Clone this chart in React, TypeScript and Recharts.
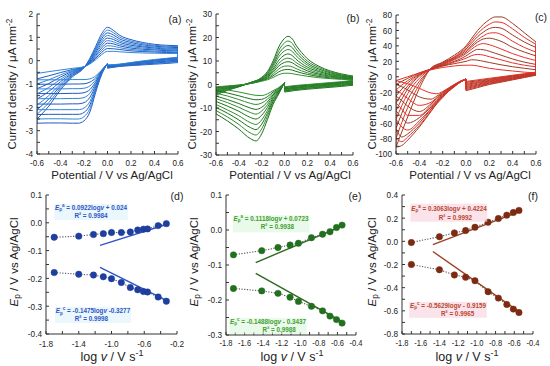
import React from 'react';
import { LineChart, Line, XAxis, YAxis } from 'recharts';

const SANS = '"Liberation Sans", Arial, sans-serif';

// ---------- (a) CV, blue ----------
const aFwdE = [-0.6, -0.5, -0.4, -0.3, -0.2, -0.15, -0.1, -0.05, 0, 0.05, 0.1, 0.2, 0.3, 0.4, 0.5, 0.6];
const aFwd = [
  [-2.5, -1.95, -1.25, -0.7, -0.3, 0.1, 0.62, 1.15, 1.43, 1.3, 1.1, 0.9, 0.78, 0.7, 0.66, 0.64],
  [-2.3, -1.8, -1.17, -0.66, -0.3, 0.06, 0.55, 1.04, 1.31, 1.2, 1.02, 0.84, 0.73, 0.66, 0.62, 0.6],
  [-2.1, -1.65, -1.08, -0.62, -0.29, 0.03, 0.48, 0.94, 1.19, 1.1, 0.94, 0.78, 0.68, 0.62, 0.58, 0.56],
  [-1.9, -1.5, -1.0, -0.58, -0.29, 0.0, 0.42, 0.84, 1.08, 1.0, 0.86, 0.72, 0.63, 0.58, 0.54, 0.52],
  [-1.65, -1.32, -0.9, -0.54, -0.28, -0.03, 0.35, 0.74, 0.97, 0.91, 0.79, 0.66, 0.59, 0.54, 0.5, 0.49],
  [-1.42, -1.15, -0.8, -0.5, -0.28, -0.06, 0.29, 0.64, 0.86, 0.81, 0.71, 0.6, 0.54, 0.5, 0.47, 0.46],
  [-1.2, -0.98, -0.7, -0.46, -0.27, -0.08, 0.22, 0.54, 0.75, 0.72, 0.64, 0.54, 0.49, 0.46, 0.43, 0.42],
  [-1.0, -0.82, -0.61, -0.42, -0.27, -0.1, 0.16, 0.44, 0.64, 0.62, 0.56, 0.48, 0.44, 0.41, 0.39, 0.38],
  [-0.78, -0.65, -0.51, -0.38, -0.26, -0.12, 0.1, 0.35, 0.52, 0.51, 0.48, 0.42, 0.39, 0.37, 0.35, 0.34],
  [-0.55, -0.47, -0.4, -0.33, -0.26, -0.14, 0.04, 0.26, 0.4, 0.4, 0.38, 0.35, 0.33, 0.32, 0.31, 0.31],
];
const aRevRE = [0.6, 0.5, 0.4, 0.3, 0.2, 0.1, 0];
const aRevR = [
  [-0.08, -0.12, -0.15, -0.18, -0.21, -0.25, -0.32],
  [-0.05, -0.09, -0.12, -0.16, -0.19, -0.23, -0.31],
  [-0.02, -0.06, -0.1, -0.14, -0.18, -0.22, -0.3],
  [0.01, -0.03, -0.07, -0.11, -0.16, -0.21, -0.28],
  [0.03, -0.01, -0.05, -0.1, -0.15, -0.2, -0.27],
  [0.06, 0.02, -0.03, -0.08, -0.13, -0.19, -0.25],
  [0.08, 0.04, -0.01, -0.06, -0.12, -0.18, -0.24],
  [0.1, 0.06, 0.01, -0.05, -0.11, -0.17, -0.22],
  [0.13, 0.08, 0.03, -0.03, -0.09, -0.16, -0.2],
  [0.15, 0.1, 0.05, -0.01, -0.08, -0.15, -0.18],
];
const aRevLE = [0, -0.05, -0.1, -0.15, -0.2, -0.25, -0.3, -0.4, -0.5, -0.6];
const aRevL = [
  [-0.12, -0.6, -1.35, -2.2, -2.58, -2.68, -2.68, -2.67, -2.67, -2.68],
  [-0.12, -0.57, -1.28, -2.05, -2.4, -2.5, -2.5, -2.49, -2.49, -2.5],
  [-0.12, -0.54, -1.2, -1.9, -2.22, -2.3, -2.3, -2.3, -2.3, -2.31],
  [-0.12, -0.52, -1.12, -1.75, -2.03, -2.1, -2.1, -2.1, -2.1, -2.1],
  [-0.12, -0.5, -1.05, -1.57, -1.8, -1.85, -1.85, -1.86, -1.86, -1.86],
  [-0.12, -0.48, -0.97, -1.4, -1.58, -1.62, -1.62, -1.63, -1.63, -1.63],
  [-0.12, -0.46, -0.9, -1.24, -1.37, -1.4, -1.4, -1.41, -1.41, -1.41],
  [-0.12, -0.44, -0.82, -1.08, -1.18, -1.2, -1.2, -1.21, -1.21, -1.21],
  [-0.12, -0.42, -0.74, -0.92, -0.99, -1.0, -1.0, -1.01, -1.01, -1.01],
  [-0.12, -0.4, -0.65, -0.78, -0.81, -0.81, -0.81, -0.82, -0.82, -0.82],
];

// ---------- (b) CV, green ----------
const bFwdE = [-0.6, -0.5, -0.4, -0.3, -0.2, -0.15, -0.1, -0.05, 0, 0.03, 0.07, 0.1, 0.15, 0.2, 0.3, 0.4, 0.5, 0.6];
const bFwd = [
  [-4.5, -2.5, -1.0, 0.8, 3.0, 5.5, 10.0, 16.0, 19.6, 20.5, 19.3, 16.8, 13.6, 11.0, 7.8, 5.8, 4.5, 3.6],
  [-4.1, -2.3, -0.9, 0.8, 2.8, 5.1, 9.1, 14.5, 17.7, 18.5, 17.4, 15.2, 12.3, 10.0, 7.2, 5.4, 4.2, 3.4],
  [-3.6, -2.0, -0.8, 0.7, 2.6, 4.6, 8.3, 13.1, 15.9, 16.6, 15.6, 13.7, 11.2, 9.1, 6.6, 5.0, 3.9, 3.2],
  [-3.2, -1.8, -0.7, 0.7, 2.4, 4.2, 7.5, 11.8, 14.3, 14.9, 14.0, 12.3, 10.1, 8.3, 6.0, 4.6, 3.7, 3.0],
  [-2.8, -1.6, -0.6, 0.6, 2.2, 3.8, 6.6, 10.3, 12.5, 13.0, 12.2, 10.8, 8.9, 7.4, 5.5, 4.2, 3.4, 2.8],
  [-2.4, -1.4, -0.5, 0.6, 2.1, 3.4, 5.9, 9.0, 10.9, 11.2, 10.6, 9.4, 7.9, 6.6, 4.9, 3.9, 3.1, 2.7],
  [-2.1, -1.2, -0.5, 0.5, 1.9, 3.1, 5.2, 7.9, 9.4, 9.7, 9.2, 8.2, 6.9, 5.8, 4.4, 3.5, 2.9, 2.5],
  [-1.7, -1.0, -0.4, 0.5, 1.7, 2.7, 4.4, 6.6, 7.8, 7.9, 7.5, 6.8, 5.8, 5.0, 3.9, 3.2, 2.7, 2.3],
  [-1.4, -0.8, -0.3, 0.4, 1.6, 2.4, 3.7, 5.4, 6.3, 6.4, 6.1, 5.6, 4.9, 4.3, 3.4, 2.8, 2.4, 2.2],
  [-1.0, -0.6, -0.2, 0.4, 1.4, 2.0, 3.0, 4.2, 4.8, 4.8, 4.6, 4.3, 3.9, 3.5, 2.9, 2.5, 2.2, 2.0],
];
const bRevRE = [0.6, 0.5, 0.4, 0.3, 0.2, 0.1, 0];
const bRevR = [
  [-0.3, -0.8, -1.2, -1.6, -2.0, -2.5, -3.2],
  [0.0, -0.5, -0.9, -1.3, -1.7, -2.2, -2.9],
  [0.2, -0.3, -0.7, -1.1, -1.5, -2.0, -2.7],
  [0.5, -0.1, -0.5, -0.9, -1.3, -1.7, -2.4],
  [0.7, 0.2, -0.2, -0.6, -1.0, -1.5, -2.1],
  [0.9, 0.4, 0.0, -0.4, -0.8, -1.3, -1.9],
  [1.2, 0.6, 0.2, -0.2, -0.6, -1.1, -1.7],
  [1.4, 0.8, 0.4, 0.0, -0.4, -0.8, -1.4],
  [1.6, 1.0, 0.6, 0.2, -0.2, -0.6, -1.2],
  [1.8, 1.2, 0.8, 0.4, 0.0, -0.4, -1.0],
];
const bRevLE = [0, -0.05, -0.1, -0.15, -0.2, -0.25, -0.3, -0.4, -0.5, -0.6];
const bRevL = [
  [0.8, -4.0, -8.5, -15.0, -21.0, -24.0, -23.0, -19.0, -15.5, -12.5],
  [0.8, -3.7, -7.8, -13.6, -18.9, -21.5, -20.6, -17.0, -13.8, -11.1],
  [0.8, -3.4, -7.1, -12.3, -16.9, -19.2, -18.3, -15.1, -12.2, -9.8],
  [0.8, -3.1, -6.4, -11.1, -15.1, -17.0, -16.2, -13.3, -10.8, -8.5],
  [0.8, -2.8, -5.7, -9.8, -13.1, -14.7, -14.0, -11.4, -9.2, -7.2],
  [0.8, -2.5, -5.0, -8.6, -11.3, -12.6, -11.9, -9.7, -7.7, -6.0],
  [0.8, -2.2, -4.4, -7.5, -9.7, -10.6, -10.0, -8.1, -6.4, -4.9],
  [0.8, -1.9, -3.8, -6.3, -7.9, -8.5, -8.0, -6.4, -4.9, -3.7],
  [0.8, -1.6, -3.2, -5.2, -6.3, -6.5, -6.1, -4.8, -3.6, -2.6],
  [0.8, -1.3, -2.6, -4.0, -4.7, -4.6, -4.2, -3.2, -2.3, -1.5],
];

// ---------- (c) CV, red ----------
const cFwdE = [-0.6, -0.5, -0.4, -0.3, -0.2, -0.1, 0, 0.05, 0.1, 0.15, 0.2, 0.25, 0.3, 0.4, 0.5, 0.6];
const cFwd = [
  [-91, -52, -15, 11, 19, 28, 40, 50, 60, 68, 74, 77.5, 77.5, 69, 57, 45],
  [-80, -40, -10, 11, 18, 26, 38, 47, 56, 63, 68, 71, 70.5, 62, 51, 42],
  [-67, -30, -6, 10, 18, 25, 36, 44, 52, 58, 62.5, 64, 63, 54, 45, 38],
  [-55, -22, -2, 10, 17, 24, 34, 41, 48, 53, 56.5, 57, 55, 46, 38, 32],
  [-44, -16, 1, 10, 16, 23, 32, 39, 45, 49, 50, 48.5, 46, 38, 32, 27],
  [-34, -12, 2, 10, 16, 22, 30, 36, 41, 43, 41.5, 39, 36, 30, 25, 21],
  [-25, -8, 3, 10, 15, 20, 27, 32, 35.5, 35, 33, 30.5, 28, 23, 19, 16],
  [-17, -5, 4, 10, 14, 19, 24, 27.5, 29, 28, 26, 24, 22, 18, 15, 13],
  [-10, -2, 5, 10, 14, 17, 20, 22, 21.5, 20, 18.5, 17, 15.5, 13, 11, 9],
  [-5, 0, 5, 9, 12, 14, 15, 15, 14, 12.5, 11, 10, 9, 7.5, 6, 5],
];
const cRevRE = [0.6, 0.5, 0.4, 0.3, 0.2, 0.1, 0];
const cRevR = [
  [2, -1, -4, -7, -10, -14, -18],
  [2.4, -0.4, -3.3, -6.2, -9.1, -12.9, -16.7],
  [2.9, 0.1, -2.7, -5.4, -8.2, -11.8, -15.3],
  [3.3, 0.7, -2, -4.7, -7.3, -10.7, -14],
  [3.8, 1.2, -1.3, -3.9, -6.4, -9.6, -12.7],
  [4.2, 1.8, -0.7, -3.1, -5.6, -8.4, -11.3],
  [4.7, 2.3, 0, -2.3, -4.7, -7.3, -10],
  [5.1, 2.9, 0.7, -1.6, -3.8, -6.2, -8.7],
  [5.6, 3.4, 1.3, -0.8, -2.9, -5.1, -7.3],
  [6, 4, 2, 0, -2, -4, -6],
];
const cRevLE = [0, -0.05, -0.1, -0.15, -0.2, -0.25, -0.3, -0.4, -0.5, -0.55, -0.6];
const cRevL = [
  [-3, -7, -13, -19, -27, -35, -45, -65, -82, -89, -91],
  [-3, -7, -12.5, -19, -26, -34, -44, -63, -78, -84, -80],
  [-3, -7, -12, -18, -25, -33, -42, -60, -74, -78, -67],
  [-3, -7, -12, -18, -25, -32, -41, -57, -69, -65, -55],
  [-3, -6.5, -11.5, -17, -24, -31, -39, -53, -60, -53, -44],
  [-3, -6.5, -11, -16.5, -23, -30, -37, -50, -50, -42, -34],
  [-3, -6, -11, -16, -22, -28, -35, -45, -38, -31, -25],
  [-3, -6, -10.5, -15.5, -21, -27, -33, -37, -28, -22, -17],
  [-3, -6, -10, -15, -20, -25, -29, -26, -17, -13, -10],
  [-3, -6, -10, -14.5, -19, -22, -21, -15, -9, -7, -5],
];

// ---------- (d) (e) (f) peak potentials ----------
const dLogV = [-1.7, -1.4, -1.22, -1.1, -1.0, -0.88, -0.77, -0.68, -0.61, -0.56, -0.43, -0.33];
const dAnodic = [-0.052, -0.048, -0.042, -0.039, -0.035, -0.035, -0.033, -0.026, -0.023, -0.022, -0.01, -0.003];
const dCathodic = [-0.179, -0.185, -0.188, -0.194, -0.201, -0.215, -0.233, -0.241, -0.247, -0.249, -0.267, -0.282];
const dFitX = [-1.14, -0.33];
const dFitA = [-0.081, -0.006];
const dFitC = [-0.16, -0.279];

const eLogV = [-1.72, -1.415, -1.24, -1.11, -1.02, -0.88, -0.76, -0.68, -0.61, -0.55];
const eAnodic = [-0.071, -0.059, -0.05, -0.043, -0.038, -0.022, -0.012, -0.005, 0.007, 0.014];
const eCathodic = [-0.167, -0.174, -0.181, -0.192, -0.204, -0.218, -0.231, -0.246, -0.256, -0.266];
const eFitX = [-1.48, -0.55];
const eFitA = [-0.093, 0.011];
const eFitC = [-0.124, -0.262];

const fLogV = [-1.7, -1.4, -1.24, -1.12, -1.02, -0.88, -0.77, -0.68, -0.61, -0.55];
const fAnodic = [-0.01, 0.04, 0.073, 0.093, 0.122, 0.165, 0.197, 0.226, 0.249, 0.267];
const fCathodic = [-0.2, -0.245, -0.29, -0.31, -0.34, -0.435, -0.49, -0.545, -0.585, -0.615];
const fFitX = [-1.47, -0.55];
const fFitA = [-0.028, 0.254];
const fFitC = [-0.088, -0.606];

// ---------- ticks ----------
const cvXTicks = [-0.6, -0.5, -0.4, -0.3, -0.2, -0.1, 0, 0.1, 0.2, 0.3, 0.4, 0.5, 0.6];
const cvXLabels = [-0.6, -0.4, -0.2, 0, 0.2, 0.4, 0.6];
const aYTicks = [-4, -3.5, -3, -2.5, -2, -1.5, -1, -0.5, 0, 0.5, 1, 1.5, 2];
const aYLabels = [-4, -3, -2, -1, 0, 1, 2];
const bYTicks = [-30, -25, -20, -15, -10, -5, 0, 5, 10, 15, 20, 25, 30];
const bYLabels = [-30, -20, -10, 0, 10, 20, 30];
const cYTicks = [-100, -90, -80, -70, -60, -50, -40, -30, -20, -10, 0, 10, 20, 30, 40, 50, 60, 70, 80];
const cYLabels = [-100, -80, -60, -40, -20, 0, 20, 40, 60, 80];
const dXTicks = [-1.8, -1.6, -1.4, -1.2, -1.0, -0.8, -0.6, -0.4, -0.2];
const dXLabels = [-1.8, -1.4, -1.0, -0.6, -0.2];
const dYTicks = [-0.4, -0.35, -0.3, -0.25, -0.2, -0.15, -0.1, -0.05, 0, 0.05, 0.1];
const dYLabels = [-0.4, -0.3, -0.2, -0.1, 0, 0.1];
const efXTicks = [-1.8, -1.7, -1.6, -1.5, -1.4, -1.3, -1.2, -1.1, -1.0, -0.9, -0.8, -0.7, -0.6, -0.5, -0.4];
const efXLabels = [-1.8, -1.6, -1.4, -1.2, -1.0, -0.8, -0.6, -0.4];
const eYTicks = [-0.3, -0.25, -0.2, -0.15, -0.1, -0.05, 0, 0.05, 0.1];
const eYLabels = [-0.3, -0.2, -0.1, 0, 0.1];
const fYTicks = [-0.8, -0.7, -0.6, -0.5, -0.4, -0.3, -0.2, -0.1, 0, 0.1, 0.2, 0.3, 0.4];
const fYLabels = [-0.8, -0.6, -0.4, -0.2, 0, 0.2, 0.4];

const pts = (xs: number[], ys: number[]) =>
  xs.map((x, i) => ({ x, y: ys[i] })).sort((p, q) => p.x - q.x);

const labeler = (labels: number[], dec: boolean) => (v: number) =>
  labels.some((l) => Math.abs(l - v) < 1e-9) ? (dec ? v.toFixed(1) : String(v)) : '';

// narrow tick text, like the condensed face of the original figure
const mkTick = (labels: number[], dec: boolean, axis: 'x' | 'y', size: number) => (props: any) => {
  const { x, y, payload } = props;
  const s = labeler(labels, dec)(payload.value);
  if (!s) return <g />;
  return (
    <text
      transform={`translate(${x},${y}) scale(0.84,1)`}
      textAnchor={axis === 'x' ? 'middle' : 'end'}
      dy={axis === 'x' ? '0.71em' : '0.355em'}
      fontSize={size}
      fontFamily={SANS}
      fill="#222"
    >
      {s}
    </text>
  );
};

const YW = 34;
const XH = 24;
const MT = 6;
const MR = 8;

type PanelProps = {
  left: number;
  top: number;
  w: number;
  h: number;
  xDomain: [number, number];
  yDomain: [number, number];
  xTicks: number[];
  xLabels: number[];
  yTicks: number[];
  yLabels: number[];
  yDec: boolean;
  xGap: number;
  xSize: number;
  children: React.ReactNode;
};

function Panel(p: PanelProps) {
  return (
    <div style={{ position: 'absolute', left: p.left - YW, top: p.top - MT }}>
      <LineChart
        width={YW + p.w + MR}
        height={MT + p.h + XH}
        margin={{ top: MT, right: MR, bottom: 0, left: 0 }}
      >
        <XAxis
          type="number"
          dataKey="x"
          domain={p.xDomain}
          ticks={p.xTicks}
          interval={0}
          allowDataOverflow
          height={XH}
          tickSize={-3}
          tickMargin={p.xGap}
          tick={mkTick(p.xLabels, true, 'x', p.xSize)}
          stroke="#333"
        />
        <YAxis
          type="number"
          domain={p.yDomain}
          ticks={p.yTicks}
          interval={0}
          allowDataOverflow
          width={YW}
          tickSize={-3}
          tickMargin={7}
          tick={mkTick(p.yLabels, p.yDec, 'y', 9.8)}
          stroke="#333"
        />
        {p.children}
      </LineChart>
    </div>
  );
}

function cvLines(
  key: string,
  fwdE: number[], fwd: number[][],
  rrE: number[], rr: number[][],
  rlE: number[], rl: number[][],
  colors: string[],
) {
  const out: React.ReactNode[] = [];
  const common = { dataKey: 'y', dot: false, activeDot: false, isAnimationActive: false, strokeWidth: 1 };
  const last = (a: number[]) => a[a.length - 1];
  const hi = fwd.flatMap((ys, i) => [{ x: last(fwdE), y: last(ys) }, { x: rrE[0], y: rr[i][0] }]);
  const mid = rr.flatMap((ys, i) => [{ x: last(rrE), y: last(ys) }, { x: rlE[0], y: rl[i][0] }]);
  const lo = rl.flatMap((ys, i) => [{ x: last(rlE), y: last(ys) }, { x: fwdE[0], y: fwd[i][0] }]);
  [hi, mid, lo].forEach((d, j) =>
    out.push(<Line key={key + 'j' + j} data={d} type="linear" stroke={colors[1]} {...common} />),
  );
  fwd.forEach((ys, i) => {
    const c = colors[i % colors.length];
    out.push(<Line key={key + 'f' + i} data={pts(fwdE, ys)} type="monotone" stroke={c} {...common} />);
    out.push(<Line key={key + 'r' + i} data={pts(rrE, rr[i])} type="monotone" stroke={c} {...common} />);
    out.push(<Line key={key + 'l' + i} data={pts(rlE, rl[i])} type="monotone" stroke={c} {...common} />);
  });
  return out;
}

function peakLines(
  key: string, xs: number[], an: number[], ca: number[],
  fitX: number[], fitA: number[], fitC: number[],
  dotColor: string, fitColor: string,
) {
  const out: React.ReactNode[] = [];
  [an, ca].forEach((ys, j) => {
    out.push(
      <Line key={key + 'dl' + j} data={pts(xs, ys)} dataKey="y" type="linear" stroke="#555"
        strokeWidth={1.1} strokeDasharray="1.2 1.5" dot={false} activeDot={false} isAnimationActive={false} />,
    );
  });
  [fitA, fitC].forEach((ys, j) => {
    out.push(
      <Line key={key + 'fit' + j} data={pts(fitX, ys)} dataKey="y" type="linear" stroke={fitColor}
        strokeWidth={1.4} dot={false} activeDot={false} isAnimationActive={false} />,
    );
  });
  [an, ca].forEach((ys, j) => {
    out.push(
      <Line key={key + 'pt' + j} data={pts(xs, ys)} dataKey="y" type="linear" stroke="none"
        dot={{ r: 3.2, fill: dotColor, stroke: dotColor, strokeWidth: 0.5 }}
        activeDot={false} isAnimationActive={false} />,
    );
  });
  return out;
}

const SUB: React.CSSProperties = { fontSize: '0.72em', position: 'relative', top: '0.3em', lineHeight: 0 };
const SUP: React.CSSProperties = { fontSize: '0.72em', position: 'relative', top: '-0.45em', lineHeight: 0 };

function Txt(props: { x: number; y: number; rot?: boolean; sx?: number; style?: React.CSSProperties; children: React.ReactNode }) {
  return (
    <div
      style={{
        position: 'absolute',
        left: props.x,
        top: props.y,
        transform:
          'translate(-50%, -50%)' + (props.rot ? ' rotate(-90deg)' : '') + (props.sx ? ` scale(${props.sx}, 1)` : ''),
        whiteSpace: 'nowrap',
        lineHeight: 1,
        fontFamily: SANS,
        color: '#222',
        ...props.style,
      }}
    >
      {props.children}
    </div>
  );
}

const TITLE: React.CSSProperties = { fontSize: 11.5 };
const PLABEL: React.CSSProperties = { fontSize: 10.5 };

// two-line regression label: equation, then R²
function EqBlock(props: {
  x: number; y: number; gap: number; shift: number; color: string; bg: string;
  sup: string; eq: string; tail: string; r2: string;
}) {
  return (
    <Txt
      x={props.x}
      y={props.y}
      sx={0.8}
      style={{
        fontSize: 7.9,
        fontWeight: 'bold',
        color: props.color,
        background: props.bg,
        padding: '0 1px',
        textAlign: 'center',
        lineHeight: `${props.gap}px`,
      }}
    >
      <div>
        <i>E</i>
        <span style={SUB}>p</span>
        <span style={SUP}>{props.sup}</span> = {props.eq}log<i>v</i> {props.tail}
      </div>
      <div style={{ position: 'relative', left: props.shift }}>R² = {props.r2}</div>
    </Txt>
  );
}

export default function App() {
  const dC = '#2e56c4';
  const eC = '#3e9e2e';
  const fC = '#b8472c';
  const dBg = 'rgba(220,242,250,0.6)';
  const eBg = 'rgba(220,246,220,0.6)';
  const fBg = 'rgba(250,218,230,0.75)';
  return (
    <div style={{ position: 'absolute', left: 0, top: 0, width: 550, height: 366, background: '#fff', overflow: 'hidden' }}>
      <Panel left={37} top={14} w={141} h={140} xDomain={[-0.6, 0.6]} yDomain={[-4, 2]} xGap={8} xSize={9.6}
        xTicks={cvXTicks} xLabels={cvXLabels} yTicks={aYTicks} yLabels={aYLabels} yDec={false}>
        {cvLines('a', aFwdE, aFwd, aRevRE, aRevR, aRevLE, aRevL, ['#2358c0', '#2f86db'])}
      </Panel>
      <Panel left={216} top={14} w={137} h={141} xDomain={[-0.6, 0.6]} yDomain={[-30, 30]} xGap={7} xSize={9.6}
        xTicks={cvXTicks} xLabels={cvXLabels} yTicks={bYTicks} yLabels={bYLabels} yDec={false}>
        {cvLines('b', bFwdE, bFwd, bRevRE, bRevR, bRevLE, bRevL, ['#1e6e1e', '#2f8f2f'])}
      </Panel>
      <Panel left={396} top={15} w={140} h={139} xDomain={[-0.6, 0.6]} yDomain={[-100, 80]} xGap={8} xSize={9.6}
        xTicks={cvXTicks} xLabels={cvXLabels} yTicks={cYTicks} yLabels={cYLabels} yDec={false}>
        {cvLines('c', cFwdE, cFwd, cRevRE, cRevR, cRevLE, cRevL, ['#9a3c24', '#e8302a'])}
      </Panel>

      <Panel left={46} top={195} w={131} h={139} xDomain={[-1.8, -0.2]} yDomain={[-0.4, 0.1]} xGap={9} xSize={9.8}
        xTicks={dXTicks} xLabels={dXLabels} yTicks={dYTicks} yLabels={dYLabels} yDec={true}>
        {peakLines('d', dLogV, dAnodic, dCathodic, dFitX, dFitA, dFitC, '#1f3f9e', '#2f55c8')}
      </Panel>
      <Panel left={226} top={195} w={130} h={140} xDomain={[-1.8, -0.4]} yDomain={[-0.3, 0.1]} xGap={8} xSize={9}
        xTicks={efXTicks} xLabels={efXLabels} yTicks={eYTicks} yLabels={eYLabels} yDec={true}>
        {peakLines('e', eLogV, eAnodic, eCathodic, eFitX, eFitA, eFitC, '#22701f', '#2d6a1f')}
      </Panel>
      <Panel left={402} top={195} w={131} h={139} xDomain={[-1.8, -0.4]} yDomain={[-0.8, 0.4]} xGap={9} xSize={9}
        xTicks={efXTicks} xLabels={efXLabels} yTicks={fYTicks} yLabels={fYLabels} yDec={true}>
        {peakLines('f', fLogV, fAnodic, fCathodic, fFitX, fFitA, fFitC, '#7c2a12', '#9c4426')}
      </Panel>

      {/* axis titles, top row */}
      {[13, 193, 373].map((x) => (
        <Txt key={'cy' + x} x={x} y={84} rot style={TITLE}>
          Current density / μA mm<span style={SUP}>-2</span>
        </Txt>
      ))}
      {[112, 290, 470].map((x) => (
        <Txt key={'cx' + x} x={x} y={176} style={TITLE}>
          Potential / V vs Ag/AgCl
        </Txt>
      ))}
      {/* axis titles, bottom row */}
      {[15, 195, 373].map((x) => (
        <Txt key={'ey' + x} x={x} y={262} rot style={TITLE}>
          <i>E</i>
          <span style={SUB}>p</span> / V vs Ag/AgCl
        </Txt>
      ))}
      {[112, 292, 467].map((x) => (
        <Txt key={'ex' + x} x={x} y={356.5} style={{ fontSize: 12.5 }}>
          log <i>v</i> / V s<span style={SUP}>-1</span>
        </Txt>
      ))}

      <Txt x={175} y={19} style={PLABEL}>(a)</Txt>
      <Txt x={353} y={18} style={PLABEL}>(b)</Txt>
      <Txt x={541} y={17} style={PLABEL}>(c)</Txt>
      <Txt x={177} y={196} style={PLABEL}>(d)</Txt>
      <Txt x={355} y={196} style={PLABEL}>(e)</Txt>
      <Txt x={533} y={196} style={PLABEL}>(f)</Txt>

      {/* regression equations */}
      <EqBlock x={91} y={211.5} gap={8} shift={0} color={dC} bg={dBg} sup="a" eq="0.0922" tail="+ 0.024" r2="0.9984" />
      <EqBlock x={93} y={315} gap={8} shift={-2} color={dC} bg={dBg} sup="c" eq="-0.1475" tail="-0.3277" r2="0.9998" />
      <EqBlock x={271} y={223.5} gap={8.7} shift={8} color={eC} bg={eBg} sup="a" eq="0.1118" tail="+ 0.0723" r2="0.9938" />
      <EqBlock x={268} y={325.5} gap={8} shift={14} color={eC} bg={eBg} sup="c" eq="-0.1488" tail="- 0.3437" r2="0.9988" />
      <EqBlock x={449} y={212.5} gap={9.3} shift={8} color={fC} bg={fBg} sup="a" eq="0.3063" tail="+ 0.4224" r2="0.9992" />
      <EqBlock x={448} y={309.5} gap={8.2} shift={12} color={fC} bg={fBg} sup="c" eq="-0.5629" tail="- 0.9159" r2="0.9965" />
    </div>
  );
}
